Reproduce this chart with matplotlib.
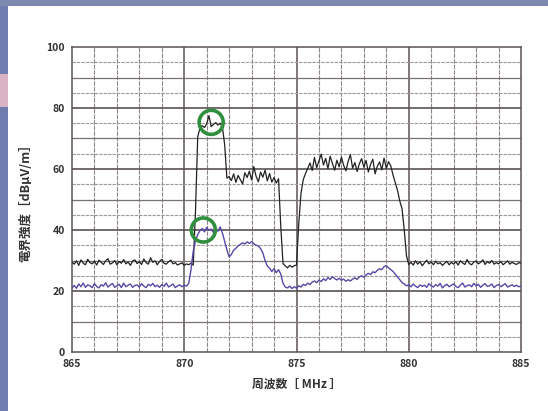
import numpy as np
import matplotlib
matplotlib.use("Agg")
import matplotlib.pyplot as plt
from matplotlib.patches import Rectangle

plt.rcParams['font.family'] = ['Noto Sans CJK JP', 'DejaVu Sans']

# frequency sampling, 0.1 MHz steps from 865 to 885
freq = np.linspace(865.0, 885.0, 201)

# upper trace (black)
level_black = [
    29.5, 28.8, 29.9, 28.4, 30.2, 29.1, 28.6, 30.4, 29.3, 28.9,   # 865
    29.8, 28.5, 30.1, 29.4, 28.7, 29.9, 30.6, 28.8, 29.2, 30.0,   # 866
    28.6, 29.7, 29.1, 30.3, 28.9, 29.5, 28.4, 29.8, 30.2, 29.0,   # 867
    29.6, 28.7, 30.5, 29.3, 28.8, 30.9, 29.4, 29.9, 28.6, 29.7,   # 868
    30.4, 29.1, 28.8, 29.6, 30.1, 28.9, 29.3, 28.5, 28.9, 29.2,   # 869
    28.4, 28.9, 28.6, 29.1, 28.5, 46.0, 70.5, 73.5, 74.2, 73.6,   # 870
    74.8, 77.5, 73.9, 74.6, 75.2, 74.4, 75.0, 73.8, 68.0, 57.0,   # 871
    57.5, 56.2, 58.4, 55.6, 57.9, 56.5, 55.1, 58.8, 57.2, 59.3,   # 872
    56.4, 60.8, 57.6, 55.8, 59.0, 57.3, 59.6, 56.1, 58.5, 55.7,   # 873
    57.2, 55.4, 56.8, 41.0, 29.0, 28.2, 27.6, 28.4, 27.8, 28.3,   # 874
    28.5, 42.0, 52.0, 56.5, 58.5, 60.2, 62.0, 59.5, 63.8, 60.4,   # 875
    62.6, 64.9, 61.3, 63.5, 60.1, 64.2, 61.8, 59.6, 62.9, 60.7,   # 876
    63.9, 61.2, 59.4, 62.5, 64.7, 60.3, 62.1, 59.2, 61.7, 63.4,   # 877
    60.6, 62.8, 59.0, 61.5, 63.2, 58.4, 60.9, 62.3, 59.7, 63.6,   # 878
    60.2, 62.4, 61.0, 58.0, 55.5, 53.0, 49.5, 47.0, 40.0, 31.5,   # 879
    28.7, 29.4, 28.5, 29.9, 28.8, 29.6, 28.3, 29.2, 30.1, 28.9,   # 880
    29.5, 28.6, 29.8, 28.9, 29.3, 28.4, 29.1, 29.7, 28.6, 29.4,   # 881
    28.8, 29.6, 28.5, 29.9, 29.2, 28.7, 30.3, 29.0, 28.6, 29.5,   # 882
    29.8, 28.9, 29.4, 30.2, 28.7, 29.6, 29.1, 30.0, 28.8, 29.3,   # 883
    28.9, 29.7, 28.6, 29.2, 29.9, 28.8, 29.4, 29.0, 28.7, 29.3,   # 884
    29.1,                                                         # 885
]

# lower trace (blue)
level_blue = [
    21.0, 21.8, 20.9, 22.3, 21.4, 22.6, 21.2, 22.0, 21.7, 21.1,   # 865
    22.4, 21.5, 21.0, 22.1, 21.6, 22.7, 21.3, 21.9, 22.5, 21.2,   # 866
    21.7, 22.2, 21.1, 22.6, 21.4, 21.9, 22.3, 21.2, 21.8, 22.0,   # 867
    21.3, 22.4, 21.6, 21.1, 22.2, 21.7, 22.5, 21.4, 21.9, 21.2,   # 868
    22.1, 21.5, 22.6, 21.3, 21.8, 22.3, 21.1, 21.7, 22.0, 21.4,   # 869
    21.9, 21.6, 22.5, 27.0, 33.0, 36.5, 38.5, 39.8, 40.5, 39.4,   # 870
    40.8, 39.9, 40.3, 39.2, 40.1, 39.6, 41.0, 39.0, 36.2, 33.5,   # 871
    31.2, 32.0, 33.4, 34.0, 34.8, 35.3, 35.8, 35.4, 36.1, 35.6,   # 872
    36.2, 35.5, 35.0, 34.8, 33.9, 32.5, 30.0, 28.2, 27.5, 26.4,   # 873
    27.3, 26.0, 27.0, 25.5, 22.5, 21.3, 21.0, 21.6, 20.8, 21.4,   # 874
    20.9, 21.7, 21.3, 22.2, 21.8, 22.6, 22.1, 22.9, 23.3, 22.7,   # 875
    23.6, 23.1, 24.0, 23.4, 24.4, 23.8, 24.6, 24.1, 23.6, 24.2,   # 876
    23.5, 23.9, 23.2, 23.7, 23.3, 23.9, 24.3, 23.8, 24.6, 25.0,   # 877
    24.5, 25.3, 25.8, 25.4, 26.3, 26.0, 26.8, 27.3, 27.0, 28.0,   # 878
    28.3, 27.6, 27.0, 26.4, 25.5, 24.6, 23.7, 22.8, 22.3, 21.7,   # 879
    22.0, 21.4, 22.3, 21.6, 21.1, 22.0, 21.5, 21.9, 21.2, 22.4,   # 880
    21.7, 21.3, 22.1, 21.6, 22.5, 21.0, 21.8, 22.2, 21.4, 21.9,   # 881
    22.3, 21.5, 21.1, 21.9, 22.6, 21.3, 21.8, 22.0, 21.4, 22.5,   # 882
    21.6, 22.2, 21.2, 21.9, 22.4, 21.5, 21.7, 22.3, 21.1, 21.8,   # 883
    22.1, 21.4, 21.9, 22.4, 21.3, 21.7, 22.0, 21.5, 21.9, 21.4,   # 884
    21.6,                                                         # 885
]

# circled spots
circle_freq = [871.2, 870.85]
circle_level = [75.3, 40.0]

x_ticks = [865, 870, 875, 880, 885]
y_ticks = [0, 20, 40, 60, 80, 100]

fig = plt.figure(figsize=(5.48, 4.11), dpi=100)
fig.patch.set_facecolor('white')

# photo border strips (left and top)
fig.patches.append(Rectangle((0, 0), 8 / 548, 1, transform=fig.transFigure,
                             facecolor='#6e7cae', edgecolor='none', zorder=-5))
fig.patches.append(Rectangle((0, 0.74), 8 / 548, 0.08, transform=fig.transFigure,
                             facecolor='#d9b3c4', edgecolor='none', zorder=-4))
fig.patches.append(Rectangle((0, 1 - 6 / 411), 1, 6 / 411, transform=fig.transFigure,
                             facecolor='#7d89b0', edgecolor='none', zorder=-5))

ax = fig.add_axes([72 / 548, 1 - 352 / 411, 449 / 548, 305 / 411])
ax.set_xlim(865, 885)
ax.set_ylim(0, 100)

# grid: every 1 MHz vertically, every 5 dB horizontally
for f in range(866, 885):
    if f % 5 == 0:
        ax.axvline(f, color='#5a5252', lw=1.1, zorder=1)
    else:
        ax.axvline(f, color='#8e8686', lw=0.8, ls=(0, (4, 1)), zorder=1)
for v in range(5, 100, 5):
    if v % 20 == 0:
        ax.axhline(v, color='#5a5252', lw=1.2, zorder=1)
    elif v % 10 == 0:
        ax.axhline(v, color='#7a7272', lw=0.9, zorder=1)
    else:
        ax.axhline(v, color='#a09898', lw=0.8, ls=(0, (3, 1)), zorder=1)

ax.plot(freq, level_black, color='#222222', lw=0.9, zorder=3)
ax.plot(freq, level_blue, color='#5847a6', lw=1.0, zorder=3)
ax.scatter(circle_freq, circle_level, s=300, facecolors='none',
           edgecolors='#2f8f3e', linewidths=2.6, zorder=4)

ax.set_xticks(x_ticks)
ax.set_yticks(y_ticks)
ax.tick_params(length=0, labelsize=7.5, colors='#333333', pad=5)
for lab in ax.get_xticklabels() + ax.get_yticklabels():
    lab.set_fontweight('bold')
for s in ax.spines.values():
    s.set_color('#5a5252')
    s.set_linewidth(1.1)

ax.set_xlabel('周波数［ MHz ］', fontsize=8.5, fontweight='bold', color='#333333', labelpad=6)
ax.set_ylabel('電界強度［dBμV/m］', fontsize=9, fontweight='bold', color='#333333', labelpad=10)

fig.savefig('out.png', dpi=100)
